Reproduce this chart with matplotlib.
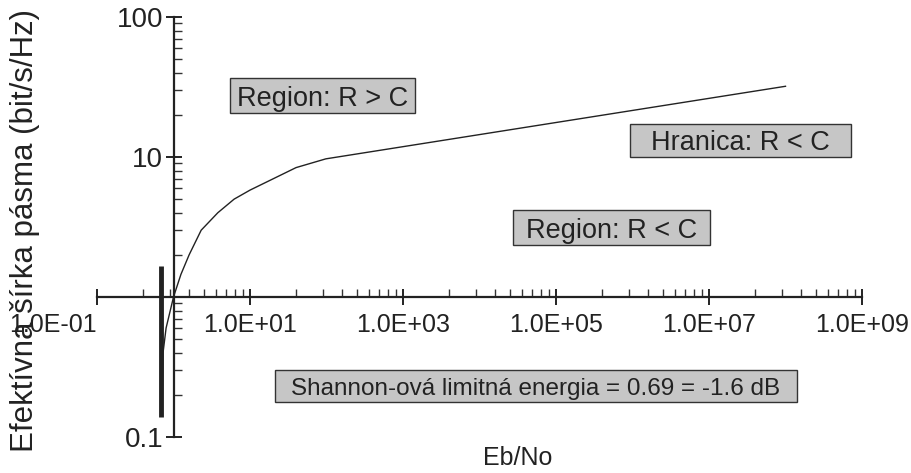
"""Shannon limit: spectral efficiency vs Eb/No (log-log)."""

import matplotlib

matplotlib.use("Agg")
import matplotlib.pyplot as plt
from matplotlib.patches import Rectangle
from matplotlib.ticker import FixedLocator, FixedFormatter

plt.rcParams["font.family"] = ["Liberation Sans", "DejaVu Sans"]

# curve (Eb/No, bit/s/Hz)
ebno = [0.71, 0.73, 0.80, 1.0, 1.25, 1.6, 2.3, 3.8, 6.2, 10.0, 40.0, 98.0, 1.0e8]
eff = [0.15, 0.40, 0.60, 1.0, 1.45, 2.0, 3.0, 4.0, 5.0, 5.8, 8.4, 9.7, 32.0]

# Shannon limit marker
limit_x = [0.69, 0.69]
limit_y = [0.14, 1.66]

x_major = [1e-1, 1e1, 1e3, 1e5, 1e7, 1e9]
x_tick_labels = ["1.0E-01", "1.0E+01", "1.0E+03", "1.0E+05", "1.0E+07", "1.0E+09"]
y_major = [0.1, 1, 10, 100]
y_tick_labels = ["0.1", "", "10", "100"]

# text, box (left, top, right, bottom) in pixels, font size
boxes = [
    ("Region: R > C", (230, 78, 415, 113), 19.5),
    ("Hranica: R < C", (630, 124, 851, 157), 19.5),
    ("Region: R < C", (513, 210, 710, 245), 19.5),
    ("Shannon-ová limitná energia = 0.69 = -1.6 dB", (275, 370, 797, 402), 17.5),
]

W, H = 911, 473
fig = plt.figure(figsize=(W / 100, H / 100), dpi=100)
ax = fig.add_axes([97 / W, 1 - 437 / H, 765 / W, 420 / H])

ax.set_xscale("log")
ax.set_yscale("log")
ax.set_xlim(1e-1, 1e9)
ax.set_ylim(0.1, 100)

ax.plot(ebno, eff, color="#222222", lw=1.0)
ax.plot(limit_x, limit_y, color="#222222", lw=3.5, solid_capstyle="butt")

for side in ("top", "right"):
    ax.spines[side].set_visible(False)
ax.spines["left"].set_position(("data", 1))
ax.spines["bottom"].set_position(("data", 1))
for side in ("left", "bottom"):
    ax.spines[side].set_linewidth(1.6)
    ax.spines[side].set_color("#222222")

# major ticks every two decades, minor ticks as if each step were one decade
ax.xaxis.set_major_locator(FixedLocator(x_major))
ax.xaxis.set_major_formatter(FixedFormatter(x_tick_labels))
x_minor = [m * k**2 for m in x_major[:-1] for k in range(2, 10)]
ax.xaxis.set_minor_locator(FixedLocator(x_minor))
ax.xaxis.set_minor_formatter(FixedFormatter([]))

ax.yaxis.set_major_locator(FixedLocator(y_major))
ax.yaxis.set_major_formatter(FixedFormatter(y_tick_labels))
y_minor = [m * k for m in y_major[:-1] for k in range(2, 10)]
ax.yaxis.set_minor_locator(FixedLocator(y_minor))
ax.yaxis.set_minor_formatter(FixedFormatter([]))

ax.tick_params(which="major", direction="inout", length=11, width=1.4,
               color="#222222", labelcolor="#222222")
ax.tick_params(which="minor", direction="in", length=6, width=1.0, color="#333333")
ax.tick_params(axis="x", which="major", pad=6, labelsize=18)
ax.tick_params(axis="y", which="major", pad=2, labelsize=20)

for lab in ax.get_xticklabels():
    if lab.get_text() == "1.0E-01":
        lab.set_horizontalalignment("right")

for text, (l, t, r, b), size in boxes:
    fig.patches.append(Rectangle((l / W, 1 - b / H), (r - l) / W, (b - t) / H,
                                 transform=fig.transFigure, fc="#c6c6c6",
                                 ec="#333333", lw=1.0, zorder=3))
    fig.text((l + r) / 2 / W, 1 - (t + b) / 2 / H, text, fontsize=size,
             color="#222222", ha="center", va="center_baseline", zorder=4)

fig.text(518 / W, 1 - 458 / H, "Eb/No", fontsize=18, color="#222222",
         ha="center", va="center")
fig.text(25 / W, 1 - 230 / H, "Efektívna šírka pásma (bit/s/Hz)", fontsize=22.5,
         color="#222222", ha="center", va="center", rotation=90)

fig.savefig("out.png", dpi=100)
